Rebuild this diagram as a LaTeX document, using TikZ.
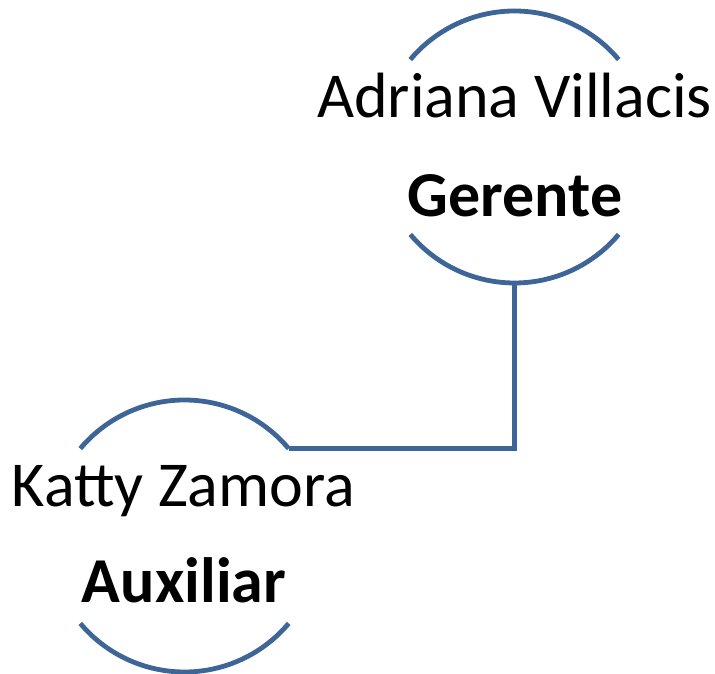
\documentclass[tikz,border=0pt]{standalone}
\usepackage{fontspec}
\setmainfont{Carlito}
\definecolor{arcblue}{HTML}{3E6597}
\tikzset{
  ring/.style={draw=arcblue, line width=4.8pt},
  link/.style={draw=arcblue, line width=4.8pt},
  nametext/.style={anchor=base, inner sep=0pt, font=\fontsize{64}{77}\selectfont},
  roletext/.style={anchor=base, inner sep=0pt, font=\fontsize{64}{77}\selectfont\bfseries}
}
\begin{document}
\begin{tikzpicture}[x=1pt,y=1pt]
\useasboundingbox (0,0) rectangle (715,674);
% centres
\coordinate (gc) at (514.5,527);
\coordinate (kc) at (184.5,138);
% arcs of the top person
\draw[ring] ([shift={(40:136)}]gc) arc[start angle=40,end angle=140,radius=136];
\draw[ring] ([shift={(220:136)}]gc) arc[start angle=220,end angle=320,radius=136];
% arcs of the bottom person
\draw[ring] ([shift={(40:136)}]kc) arc[start angle=40,end angle=140,radius=136];
\draw[ring] ([shift={(220:136)}]kc) arc[start angle=220,end angle=320,radius=136];
% texts
\node[nametext] (gname) at (514.5,556) {Adriana Villacis};
\node[roletext] (grole) at (515,457) {Gerente};
\node[nametext] (kname) at (183.5,167) {Katty Zamora};
\node[roletext] (krole) at (184,71) {Auxiliar};
% connector
\coordinate (gbot) at ([shift={(270:136)}]gc);
\coordinate (ktop) at ([shift={(40:136)}]kc);
\draw[link] (gbot) |- (ktop);
\end{tikzpicture}
\end{document}
